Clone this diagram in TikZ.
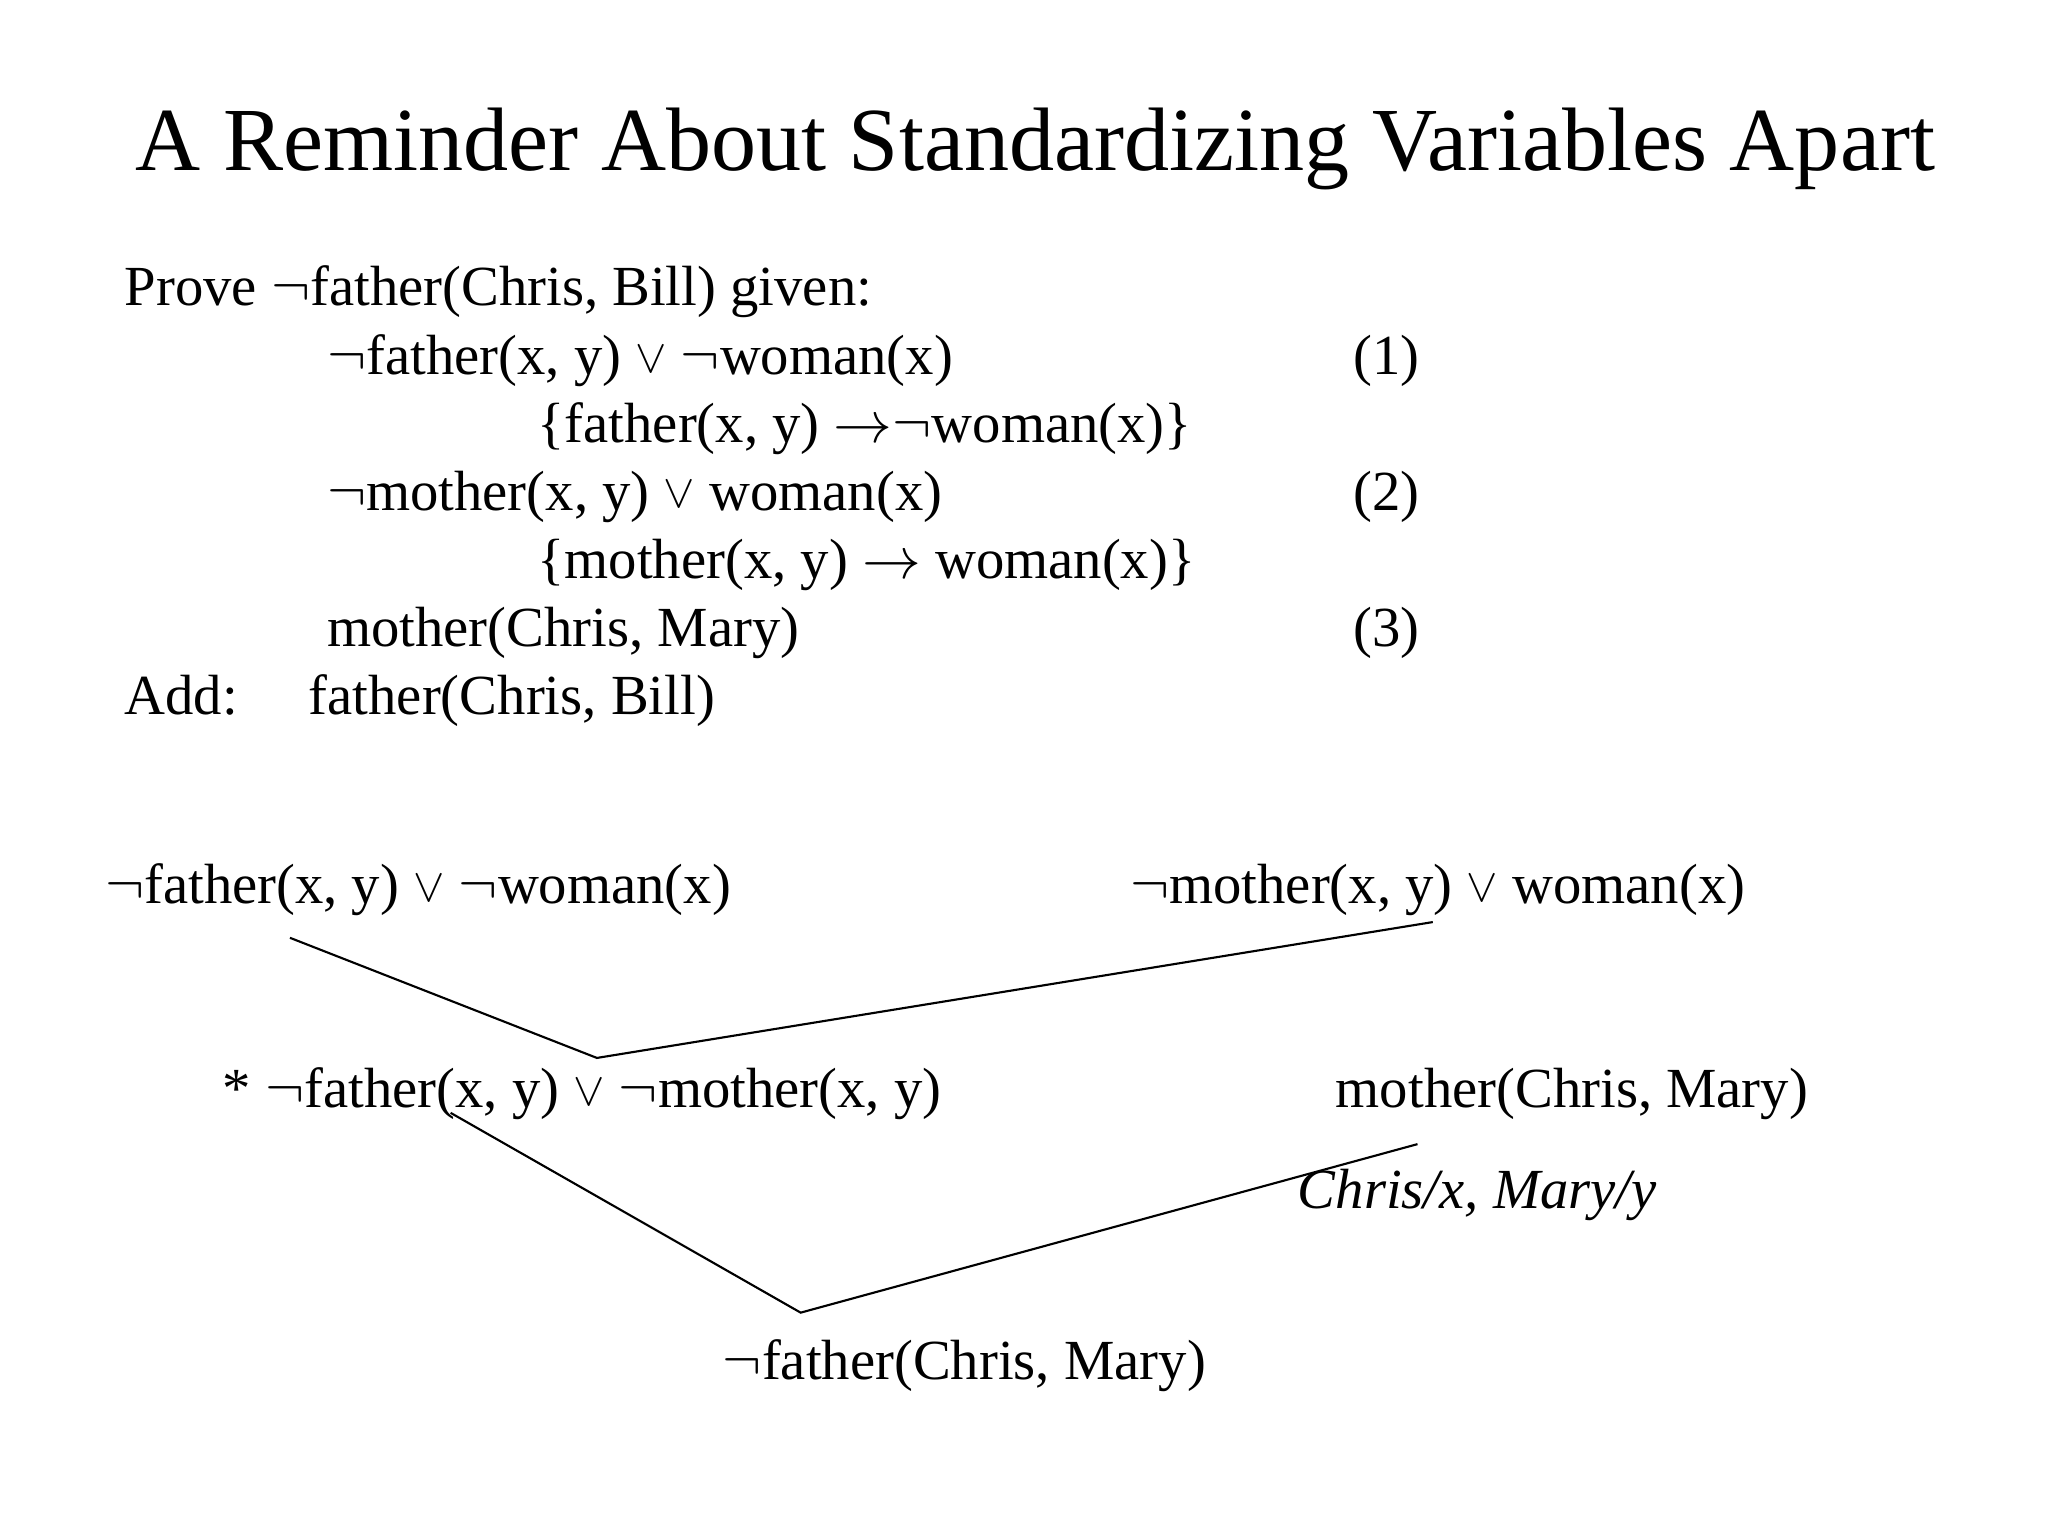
\documentclass[tikz,border=0pt]{standalone}
\usepackage{fontspec}
\setmainfont{Liberation Serif}
\usepackage{amsmath,amssymb}
\usepackage{tikz}
\usetikzlibrary{calc}
\newcommand{\nt}{\ensuremath{\neg}}
\newcommand{\orr}{\raisebox{0.1ex}{\scalebox{0.8}{$\vee$}}}
\newcommand{\imp}{\ensuremath{\rightarrow}}

\begin{document}
\begin{tikzpicture}[txt/.style = {anchor = base west, inner sep = 0pt, font = \fontsize{20}{24}\selectfont},
                    edge/.style = {line width = 0.75pt}]

\useasboundingbox (0,0) rectangle (25.4,19.05);

\node[anchor = base, inner sep = 0pt, font = \fontsize{31.8}{38}\selectfont] (title) at (12.84,16.93) {A Reminder About Standardizing Variables Apart};

% the given clauses
\node[txt] (prove) at (1.539,15.26) {Prove \nt father(Chris, Bill) given:};
\node[txt] (c1)  at (4.05,14.40) {\nt father(x, y) \orr{} \nt woman(x)};
\node[txt] (k1)  at (16.78,14.40) {(1)};
\node[txt] (c1b) at (6.66,13.56) {\{father(x, y) \imp\nt woman(x)\}};
\node[txt] (c2)  at (4.05,12.72) {\nt mother(x, y) \orr{} woman(x)};
\node[txt] (k2)  at (16.78,12.72) {(2)};
\node[txt] (c2b) at (6.66,11.87) {\{mother(x, y) \imp{} woman(x)\}};
\node[txt] (c3)  at (4.05,11.03) {mother(Chris, Mary)};
\node[txt] (k3)  at (16.78,11.03) {(3)};
\node[txt] (add) at (1.539,10.19) {Add:};
\node[txt] (c4)  at (3.823,10.19) {father(Chris, Bill)};

% resolution tree
\node[txt] (r1) at (1.296,7.84) {\nt father(x, y) \orr{} \nt woman(x)};
\node[txt] (r2) at (14.01,7.84) {\nt mother(x, y) \orr{} woman(x)};
\node[txt] (r3) at (2.754,5.313) {* \nt father(x, y) \orr{} \nt mother(x, y)};
\node[txt] (r4) at (16.56,5.313) {mother(Chris, Mary)};
\node[txt] (sub) at (16.09,4.066) {\itshape Chris/x, Mary/y};
\node[txt] (r5) at (8.958,1.944) {\nt father(Chris, Mary)};

\coordinate (p1) at (3.596,7.419);
\coordinate (v1) at (7.403,5.929);
\coordinate (p2) at (17.77,7.614);
\coordinate (p3) at (5.589,5.248);
\coordinate (v2) at (9.930,2.770);
\coordinate (p4) at (17.58,4.860);

\draw[edge] (p1) -- (v1) -- (p2);
\draw[edge] (p3) -- (v2) -- (p4);

\end{tikzpicture}
\end{document}
